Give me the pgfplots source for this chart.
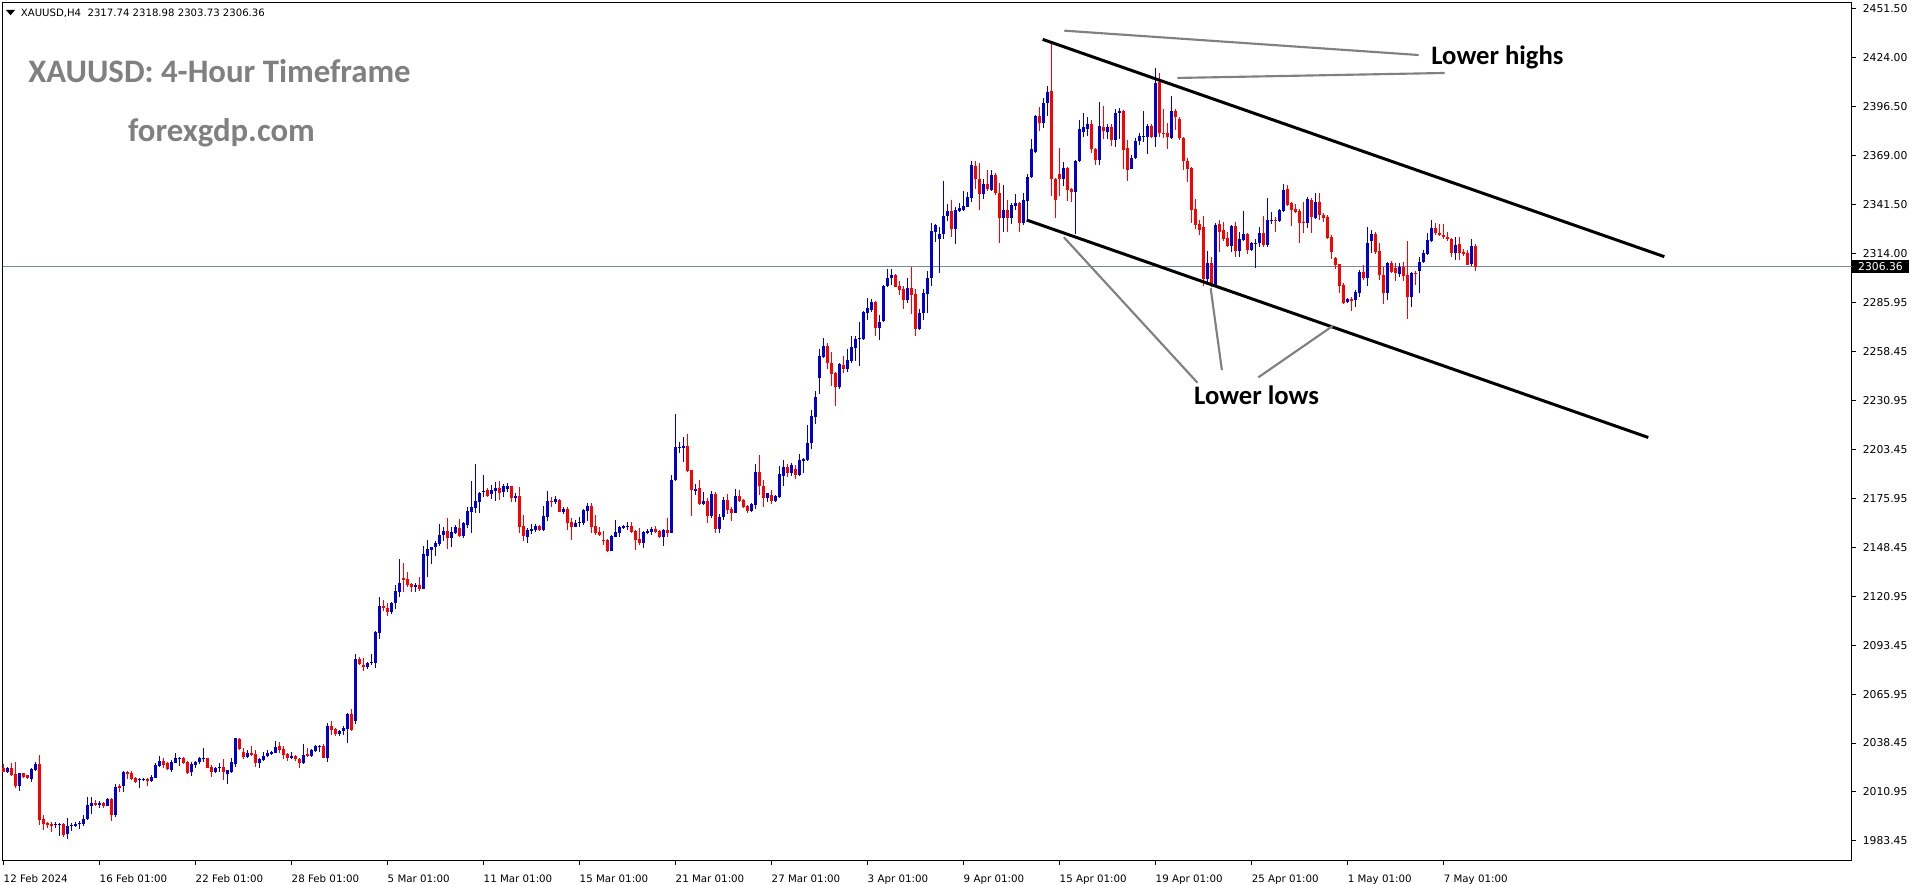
\documentclass[border=0pt]{standalone}
\usepackage{pgfplots}
\pgfplotsset{compat=1.18}
\usepackage{pgfplotstable}
\usepackage{fontspec}
\setmainfont{DejaVu Sans}
\newfontfamily\carlito{Carlito}
\definecolor{upcol}{RGB}{0,0,210}
\definecolor{dncol}{RGB}{255,0,0}
\definecolor{annogray}{RGB}{128,128,128}
\definecolor{pricegray}{RGB}{119,136,153}

\pgfplotstableread{
x o h l c
1 2022.3 2025.1 2021.8 2024.6
4 2014.3 2021.8 2011.5 2021.4
7 2018.4 2024.2 2016.7 2023.6
8 2023.3 2028.0 2022.7 2026.5
13 1992.3 1993.8 1990.5 1992.7
14 1992.1 1993.6 1986.3 1993.1
16 1987.1 1996.5 1984.3 1991.8
17 1991.8 1993.3 1989.1 1992.3
18 1991.8 1994.2 1991.4 1993.1
19 1992.7 1994.6 1989.9 1993.6
20 1992.7 1998.0 1992.0 1995.7
21 1995.5 2008.3 1995.1 2003.6
22 2003.2 2008.3 1998.3 2004.9
24 2003.6 2005.8 2002.1 2004.9
26 2003.2 2007.3 2003.0 2006.9
28 1998.0 2015.2 1997.0 2013.7
30 2014.5 2022.7 2011.1 2021.9
34 2017.5 2018.6 2013.0 2018.0
35 2017.7 2018.6 2017.0 2018.2
37 2017.1 2020.5 2016.7 2019.5
38 2018.9 2027.0 2018.6 2026.1
39 2025.7 2031.3 2025.1 2028.3
42 2023.3 2028.9 2022.3 2028.0
43 2027.4 2032.6 2027.0 2030.2
44 2029.8 2030.8 2025.7 2030.2
47 2021.9 2027.6 2019.9 2026.5
48 2026.1 2028.3 2024.6 2027.8
49 2027.6 2030.8 2026.6 2029.8
50 2029.3 2035.5 2027.9 2029.8
53 2022.3 2025.1 2021.4 2024.6
54 2024.2 2027.0 2022.3 2024.9
56 2020.8 2023.3 2015.6 2023.1
57 2022.3 2029.8 2021.4 2027.9
58 2026.5 2041.5 2025.1 2041.1
61 2030.6 2034.5 2029.8 2033.0
64 2027.4 2029.8 2024.6 2029.5
65 2028.9 2033.6 2028.5 2031.2
66 2031.2 2034.6 2030.4 2033.0
67 2032.3 2034.2 2031.7 2033.6
68 2033.0 2039.6 2032.7 2036.0
72 2030.2 2033.6 2029.3 2031.2
75 2027.1 2037.9 2026.7 2031.7
77 2031.2 2034.9 2030.8 2034.6
78 2034.2 2037.4 2033.6 2036.8
79 2036.4 2037.4 2033.6 2036.9
81 2030.2 2049.9 2028.0 2048.0
84 2043.6 2045.8 2042.4 2045.2
85 2045.2 2048.2 2043.0 2046.7
86 2046.3 2055.5 2038.7 2054.8
88 2050.8 2088.3 2049.2 2085.7
91 2081.0 2084.2 2080.1 2083.7
92 2083.7 2088.5 2082.4 2084.2
93 2083.7 2101.7 2080.5 2101.1
94 2100.5 2120.4 2097.0 2115.7
97 2112.4 2118.0 2111.0 2117.4
98 2117.0 2127.3 2113.7 2124.2
99 2123.6 2142.0 2120.8 2128.7
103 2126.4 2128.3 2123.6 2127.3
105 2125.1 2149.3 2124.9 2144.8
106 2143.7 2152.7 2131.7 2147.4
107 2147.0 2148.9 2139.2 2148.5
108 2148.5 2152.3 2143.7 2150.8
109 2150.4 2161.7 2149.3 2155.5
110 2155.5 2159.8 2152.3 2157.9
112 2154.0 2159.8 2148.9 2157.3
113 2156.8 2161.1 2156.0 2159.8
115 2154.9 2163.0 2154.0 2162.0
116 2161.1 2171.4 2159.2 2169.2
117 2168.6 2186.0 2156.8 2171.4
118 2170.8 2195.4 2167.7 2174.6
119 2174.2 2179.5 2168.0 2178.9
120 2179.5 2189.2 2177.0 2180.4
122 2178.3 2183.6 2175.7 2180.8
123 2180.2 2185.1 2174.6 2181.7
125 2179.8 2184.0 2177.0 2183.2
126 2181.3 2184.5 2179.5 2183.2
128 2176.1 2178.9 2173.8 2177.4
131 2154.5 2159.6 2150.8 2158.3
132 2157.7 2161.5 2155.8 2158.8
133 2158.3 2161.6 2157.3 2160.5
135 2158.3 2171.8 2157.7 2166.1
136 2165.8 2180.2 2163.3 2174.6
138 2173.8 2177.4 2172.9 2175.5
140 2168.6 2171.4 2167.3 2170.1
143 2160.1 2163.9 2160.1 2162.4
144 2162.4 2165.8 2160.1 2163.0
145 2162.4 2169.8 2161.1 2169.5
146 2169.1 2173.3 2163.3 2171.8
152 2146.6 2155.5 2146.5 2154.9
153 2154.5 2163.9 2154.1 2157.3
154 2156.8 2160.5 2154.5 2160.1
155 2159.2 2161.1 2158.8 2160.7
156 2160.1 2162.9 2158.3 2160.7
160 2151.1 2157.7 2148.3 2157.3
161 2156.8 2158.6 2155.8 2157.9
162 2157.3 2160.1 2155.5 2158.8
165 2154.5 2158.6 2149.5 2158.3
167 2156.8 2189.2 2156.4 2186.4
168 2186.4 2223.5 2186.0 2204.8
169 2204.6 2207.9 2201.8 2205.1
170 2204.6 2210.8 2196.7 2205.5
173 2180.4 2184.1 2178.0 2181.1
175 2172.7 2179.8 2172.3 2174.6
177 2166.3 2180.2 2165.2 2178.5
179 2158.8 2167.3 2156.8 2165.4
180 2165.4 2177.0 2163.9 2175.1
183 2168.0 2181.3 2167.6 2177.4
187 2169.1 2173.6 2168.6 2172.9
188 2172.3 2195.4 2169.9 2191.1
191 2176.5 2179.3 2174.2 2178.9
193 2174.8 2178.0 2174.2 2177.4
194 2176.6 2194.3 2176.1 2189.8
195 2188.6 2197.6 2183.0 2193.5
197 2190.5 2195.8 2188.6 2194.8
199 2189.2 2201.0 2188.6 2197.6
200 2197.3 2198.6 2190.1 2198.2
201 2197.6 2217.3 2197.3 2207.0
202 2207.0 2225.8 2203.8 2222.4
203 2222.0 2236.6 2217.9 2232.9
204 2243.6 2259.9 2234.8 2256.1
205 2255.8 2266.4 2254.8 2261.8
209 2238.5 2252.0 2237.6 2251.6
211 2248.6 2259.9 2247.3 2253.9
212 2253.3 2267.4 2252.0 2261.4
213 2260.8 2267.4 2253.5 2265.7
214 2265.5 2275.4 2250.5 2266.4
215 2265.5 2281.6 2265.1 2280.7
216 2280.5 2288.6 2276.4 2283.3
217 2282.0 2288.2 2280.7 2286.7
219 2272.1 2279.2 2265.1 2275.4
220 2275.8 2296.1 2275.4 2295.7
221 2295.5 2305.1 2295.1 2300.2
222 2299.8 2305.1 2296.1 2301.7
226 2287.6 2299.8 2286.1 2294.6
229 2271.3 2282.4 2270.8 2280.5
230 2280.1 2293.6 2276.4 2291.4
231 2291.0 2304.1 2280.1 2300.2
232 2299.8 2330.8 2295.5 2326.4
233 2326.1 2330.4 2320.4 2329.8
234 2321.8 2328.5 2303.0 2324.8
235 2324.6 2354.6 2321.8 2334.9
236 2334.9 2341.6 2332.1 2337.7
238 2327.4 2339.8 2318.9 2338.3
239 2337.7 2342.4 2336.9 2339.6
240 2338.3 2348.9 2337.9 2340.5
241 2340.1 2348.6 2339.8 2345.8
242 2345.2 2365.8 2342.9 2363.6
245 2347.3 2355.5 2344.3 2352.9
247 2349.5 2360.8 2348.9 2357.9
250 2334.0 2352.3 2326.1 2338.3
252 2333.6 2342.4 2330.4 2341.1
253 2340.5 2347.1 2338.3 2342.4
255 2330.8 2347.6 2329.8 2343.9
256 2343.5 2358.3 2332.6 2357.0
257 2356.6 2378.2 2356.1 2372.6
258 2370.7 2391.7 2370.1 2391.1
260 2387.4 2401.4 2384.6 2398.3
261 2398.3 2408.0 2391.1 2404.8
265 2355.7 2365.4 2351.8 2362.1
268 2348.6 2366.4 2324.8 2365.8
269 2365.8 2388.9 2365.4 2383.6
270 2382.3 2392.6 2379.5 2384.8
271 2383.8 2390.4 2379.9 2386.6
274 2366.4 2399.2 2363.6 2385.5
276 2382.3 2386.6 2378.0 2385.1
278 2377.6 2395.1 2373.9 2393.0
279 2392.6 2395.4 2378.0 2394.1
282 2361.1 2369.2 2361.1 2367.7
283 2367.3 2378.6 2366.8 2377.3
284 2377.1 2381.4 2374.8 2379.9
285 2379.5 2393.9 2376.7 2379.9
286 2379.5 2386.4 2369.8 2385.5
288 2379.1 2418.3 2373.9 2409.9
292 2378.6 2402.4 2378.0 2393.9
301 2299.3 2315.2 2297.9 2308.3
303 2296.1 2331.1 2295.1 2329.8
307 2318.0 2329.8 2314.8 2329.3
309 2315.4 2326.1 2312.0 2321.8
310 2321.4 2337.7 2321.0 2324.6
312 2315.8 2320.4 2315.4 2319.5
313 2319.5 2321.8 2305.4 2319.9
314 2319.5 2328.5 2317.6 2325.1
316 2318.6 2344.8 2317.6 2332.6
317 2332.2 2337.3 2330.4 2332.6
319 2332.2 2338.6 2331.7 2338.3
320 2337.9 2352.9 2337.3 2349.5
326 2330.8 2345.4 2327.9 2344.3
328 2333.6 2347.6 2333.0 2342.9
336 2286.7 2288.6 2285.8 2288.0
338 2287.6 2293.3 2283.9 2292.3
339 2291.8 2304.5 2289.1 2303.6
341 2299.8 2328.5 2295.5 2319.9
342 2321.0 2327.0 2313.9 2324.8
346 2291.8 2309.2 2287.6 2308.3
349 2302.3 2308.3 2300.4 2306.4
352 2289.5 2303.6 2283.5 2302.6
354 2304.1 2312.0 2291.8 2309.2
355 2309.2 2315.8 2308.3 2314.3
356 2313.5 2325.1 2312.9 2321.4
357 2321.0 2332.6 2320.4 2327.9
363 2313.9 2322.9 2310.1 2318.6
367 2307.9 2321.8 2306.8 2318.0
}\upbars

\pgfplotstableread{
x o h l c
0 2024.2 2026.5 2021.9 2022.3
2 2024.6 2027.0 2019.9 2020.5
3 2020.8 2027.8 2012.9 2014.3
5 2021.4 2021.6 2018.6 2019.3
6 2020.3 2020.5 2018.0 2018.6
9 2026.6 2031.7 1992.3 1995.1
10 1995.5 1998.0 1989.5 1992.7
11 1993.6 1994.2 1990.5 1992.1
12 1993.1 1993.8 1988.6 1991.8
15 1992.9 1993.3 1985.8 1986.7
23 2004.9 2006.4 2003.0 2003.6
25 2004.7 2005.5 2002.1 2003.2
27 2006.9 2007.7 1994.6 1998.0
29 2014.3 2015.4 2011.1 2012.9
31 2022.3 2022.7 2018.0 2021.0
32 2021.8 2022.7 2017.5 2018.2
33 2019.0 2019.5 2015.8 2016.7
36 2018.0 2018.6 2014.5 2017.3
40 2028.3 2029.8 2024.2 2026.1
41 2027.0 2028.0 2023.3 2023.8
45 2030.2 2030.8 2026.6 2027.4
46 2027.6 2028.3 2020.8 2021.4
51 2029.8 2030.2 2024.2 2024.6
52 2025.1 2026.1 2019.5 2022.3
55 2024.9 2029.3 2017.6 2022.3
59 2040.7 2041.1 2034.5 2035.1
60 2033.6 2035.5 2029.5 2030.4
62 2033.0 2036.8 2031.2 2031.7
63 2032.3 2034.6 2025.2 2027.4
69 2036.8 2039.2 2033.0 2034.6
70 2034.9 2036.8 2029.3 2031.7
71 2032.3 2033.0 2028.5 2030.2
73 2031.2 2031.7 2028.5 2029.3
74 2029.3 2029.8 2024.2 2027.1
76 2032.1 2035.5 2030.8 2031.4
80 2036.8 2037.7 2029.8 2030.2
82 2048.0 2050.8 2043.0 2045.8
83 2046.2 2046.7 2042.4 2043.6
87 2054.8 2057.4 2045.4 2045.8
89 2085.7 2086.7 2082.4 2082.9
90 2082.4 2086.1 2079.2 2081.0
95 2115.7 2118.9 2112.9 2114.2
96 2114.6 2117.0 2109.9 2112.4
100 2131.5 2139.5 2123.6 2130.2
101 2130.7 2134.5 2126.4 2127.3
102 2127.9 2128.7 2123.6 2126.4
104 2127.3 2131.7 2124.2 2125.1
111 2157.9 2165.2 2147.4 2153.6
114 2159.6 2164.3 2154.5 2154.9
121 2180.8 2181.7 2176.7 2177.6
124 2182.1 2185.8 2175.1 2179.3
127 2183.0 2183.2 2174.2 2176.1
129 2177.4 2182.3 2156.4 2160.1
130 2160.5 2166.7 2152.1 2155.1
134 2160.5 2161.1 2157.7 2158.3
137 2174.6 2176.6 2171.4 2173.8
139 2175.1 2175.7 2168.2 2168.6
141 2170.1 2171.4 2158.3 2162.4
142 2163.0 2164.8 2152.6 2160.1
147 2171.8 2173.3 2156.4 2160.1
148 2160.5 2166.7 2155.5 2156.8
149 2157.3 2160.1 2154.9 2155.5
150 2152.6 2157.7 2149.8 2152.3
151 2152.6 2153.0 2146.1 2146.5
157 2160.5 2163.0 2156.8 2157.0
158 2157.7 2158.3 2147.0 2152.6
159 2153.2 2159.2 2149.8 2151.1
163 2158.8 2160.5 2156.4 2157.0
164 2157.7 2158.3 2153.9 2154.5
166 2158.3 2165.2 2154.5 2156.8
171 2205.5 2212.3 2191.1 2191.5
172 2192.0 2192.0 2166.1 2180.8
174 2182.1 2186.4 2172.3 2172.7
176 2174.6 2176.5 2162.4 2166.3
178 2178.5 2179.8 2156.8 2158.8
181 2175.1 2178.3 2167.3 2169.5
182 2170.1 2171.0 2163.5 2168.0
184 2177.4 2180.8 2174.2 2174.6
185 2175.1 2175.5 2170.5 2171.4
186 2171.8 2172.3 2167.6 2169.1
189 2191.1 2200.5 2178.0 2183.0
190 2183.0 2186.4 2171.4 2176.5
192 2178.0 2180.8 2172.9 2174.8
196 2193.5 2195.4 2188.3 2190.1
198 2192.4 2194.8 2186.8 2189.2
206 2261.8 2263.6 2248.6 2252.0
207 2252.0 2258.6 2239.3 2246.0
208 2246.8 2247.3 2228.0 2238.5
210 2251.1 2256.1 2246.4 2248.6
218 2286.7 2287.0 2267.6 2272.1
223 2301.7 2302.3 2294.8 2295.1
224 2295.5 2298.3 2290.4 2293.3
225 2293.8 2295.5 2282.6 2287.6
227 2294.6 2306.4 2279.8 2290.4
228 2291.0 2293.6 2267.6 2271.3
237 2337.7 2343.9 2322.9 2327.6
243 2363.0 2366.0 2350.0 2355.7
244 2355.7 2364.5 2338.3 2347.3
246 2352.9 2360.8 2348.9 2349.9
248 2357.9 2358.9 2346.7 2347.6
249 2348.0 2353.3 2319.5 2334.0
251 2338.3 2343.9 2326.1 2333.6
254 2342.4 2343.0 2325.7 2330.8
259 2391.1 2396.0 2382.7 2387.4
262 2405.2 2432.0 2346.3 2355.5
263 2355.7 2356.1 2333.9 2343.9
264 2358.5 2373.3 2346.3 2355.7
266 2362.1 2362.4 2343.3 2349.5
267 2349.9 2350.4 2343.0 2348.6
272 2386.6 2388.9 2370.5 2372.4
273 2372.6 2372.9 2363.6 2366.4
275 2385.1 2396.8 2378.0 2382.9
277 2385.1 2386.4 2374.3 2377.6
280 2394.1 2394.5 2361.1 2372.0
281 2372.9 2377.6 2354.6 2360.8
287 2385.5 2386.4 2378.6 2379.1
289 2410.4 2415.5 2379.5 2381.4
290 2381.8 2394.9 2378.6 2380.8
291 2381.4 2387.4 2372.6 2379.1
293 2393.9 2394.9 2383.3 2390.4
294 2389.3 2390.4 2377.6 2378.6
295 2378.9 2379.5 2360.8 2365.8
296 2365.8 2367.7 2354.2 2361.1
297 2362.1 2362.6 2331.1 2338.3
298 2338.8 2344.3 2327.4 2329.8
299 2330.4 2332.6 2324.2 2327.0
300 2328.5 2334.9 2295.5 2299.3
302 2308.3 2311.6 2295.1 2296.1
304 2330.4 2332.6 2314.8 2326.1
305 2327.0 2331.7 2321.0 2321.8
306 2322.7 2326.1 2317.3 2318.0
308 2329.3 2331.7 2312.0 2315.4
311 2324.8 2325.5 2313.5 2315.8
315 2325.1 2334.9 2317.6 2318.6
318 2332.6 2334.5 2326.1 2332.1
321 2349.9 2352.3 2340.5 2341.1
322 2342.4 2342.6 2329.3 2338.3
323 2338.6 2341.6 2336.4 2337.3
324 2337.9 2338.6 2319.9 2331.1
325 2331.7 2342.9 2325.1 2330.8
327 2343.9 2344.8 2325.5 2334.5
329 2342.9 2347.6 2332.6 2335.4
330 2335.4 2336.4 2331.7 2333.6
331 2334.5 2335.4 2321.8 2322.3
332 2322.9 2324.2 2310.5 2314.8
333 2311.1 2311.6 2305.0 2307.3
334 2307.9 2307.9 2291.4 2295.5
335 2296.1 2297.0 2285.4 2285.8
337 2288.0 2289.5 2281.6 2287.3
340 2303.6 2307.3 2298.9 2300.2
343 2324.8 2326.1 2313.5 2314.8
344 2315.2 2319.9 2298.9 2301.7
345 2301.7 2306.0 2285.4 2291.8
347 2308.3 2309.6 2303.0 2303.6
348 2305.4 2308.3 2298.5 2302.6
350 2306.4 2309.2 2298.5 2301.1
351 2301.7 2321.0 2276.9 2289.5
353 2302.6 2304.1 2296.1 2302.1
358 2327.9 2331.1 2324.2 2325.1
359 2325.5 2330.4 2323.6 2324.2
360 2324.2 2330.4 2321.8 2322.9
361 2322.9 2326.1 2321.0 2321.8
362 2321.8 2322.3 2311.6 2313.9
364 2318.9 2322.9 2310.1 2314.3
365 2314.8 2316.1 2312.4 2313.5
366 2314.3 2315.8 2307.3 2307.3
368 2317.74 2318.98 2303.73 2306.36
}\downbars

\begin{document}
\begin{tikzpicture}
\useasboundingbox (0,0) rectangle (1437pt,663pt);
\begin{axis}[
  at={(2pt,17.25pt)}, anchor=south west,
  x=3pt, y=1.3335pt,
  xmin=-0.2, xmax=462.1, ymin=1972.1, ymax=2454.8,
  clip=false,
  axis line style={black, line width=0.75pt},
  xtick={0,24,...,360},
  xticklabels={12 Feb 2024,16 Feb 01:00,22 Feb 01:00,28 Feb 01:00,5 Mar 01:00,11 Mar 01:00,15 Mar 01:00,21 Mar 01:00,27 Mar 01:00,3 Apr 01:00,9 Apr 01:00,15 Apr 01:00,19 Apr 01:00,25 Apr 01:00,1 May 01:00,7 May 01:00},
  ytick={2451.50,2424.00,2396.50,2369.00,2341.50,2314.00,2285.95,2258.45,2230.95,2203.45,2175.95,2148.45,2120.95,2093.45,2065.95,2038.45,2010.95,1983.45},
  yticklabels={2451.50,2424.00,2396.50,2369.00,2341.50,2314.00,2285.95,2258.45,2230.95,2203.45,2175.95,2148.45,2120.95,2093.45,2065.95,2038.45,2010.95,1983.45},
  xtick pos=bottom, ytick pos=right, yticklabel pos=right,
  tick align=outside, major tick length=3pt,
  tick style={black, line width=0.75pt},
  xticklabel style={font=\fontsize{7.7}{9}\selectfont, anchor=north west, inner sep=0pt, yshift=-7pt},
  yticklabel style={font=\fontsize{8.1}{9}\selectfont, anchor=west, inner sep=0pt, xshift=5pt},
]
\addplot[pricegray, line width=0.75pt] coordinates {(-0.2,2306.36) (462.1,2306.36)};
% wicks
\addplot[upcol, line width=0.8pt, quiver={u=0, v=\thisrow{h}-\thisrow{l}}] table[x=x, y=l] {\upbars};
\addplot[dncol, line width=0.8pt, quiver={u=0, v=\thisrow{h}-\thisrow{l}}] table[x=x, y=l] {\downbars};
% bodies
\addplot[upcol, line width=2.5pt, quiver={u=0, v=\thisrow{c}-\thisrow{o}}] table[x=x, y=o] {\upbars};
\addplot[dncol, line width=2.5pt, quiver={u=0, v=\thisrow{c}-\thisrow{o}}] table[x=x, y=o] {\downbars};
% channel
\addplot[black, line width=2.25pt] coordinates {(259.8,2434.2) (415.2,2312.0)};
\addplot[black, line width=2.25pt] coordinates {(255.8,2332.6) (411.2,2210.3)};
% pointer lines
\addplot[annogray, line width=1.6pt] coordinates {(265.2,2439.1) (353.8,2425.4)};
\addplot[annogray, line width=1.6pt] coordinates {(293.5,2412.5) (360.3,2415.3)};
\addplot[annogray, line width=1.6pt] coordinates {(265.1,2322.9) (298.5,2241.1)};
\addplot[annogray, line width=1.6pt] coordinates {(301.8,2294.2) (304.6,2248.2)};
\addplot[annogray, line width=1.6pt] coordinates {(332.3,2273.0) (313.7,2244.1)};
\node[anchor=west, inner sep=0pt, font=\carlito\bfseries\fontsize{20}{24}\selectfont] at (axis cs:356.9,2424.3) {Lower highs};
\node[anchor=west, inner sep=0pt, font=\carlito\bfseries\fontsize{20}{24}\selectfont] at (axis cs:297.6,2233.9) {Lower lows};
\node[anchor=west, fill=black, text=white, inner sep=0pt, minimum width=42.5pt, minimum height=9.5pt, font=\fontsize{8.1}{9}\selectfont] at (axis cs:462.1,2306.36) {2306.36};
\end{axis}
\fill[black] (4.5pt,655.5pt) -- (11.25pt,655.5pt) -- (7.9pt,651.5pt) -- cycle;
\node[anchor=base west, inner sep=0pt, font=\fontsize{7.6}{9}\selectfont] at (15.5pt,650.5pt) {XAUUSD,H4\ \ 2317.74 2318.98 2303.73 2306.36};
\node[anchor=base west, inner sep=0pt, text=annogray, font=\carlito\bfseries\fontsize{24.6}{28}\selectfont] at (21pt,600.75pt) {XAUUSD: 4-Hour Timeframe};
\node[anchor=base west, inner sep=0pt, text=annogray, font=\carlito\bfseries\fontsize{24.6}{28}\selectfont] at (95.8pt,556.7pt) {forexgdp.com};
\end{tikzpicture}
\end{document}
